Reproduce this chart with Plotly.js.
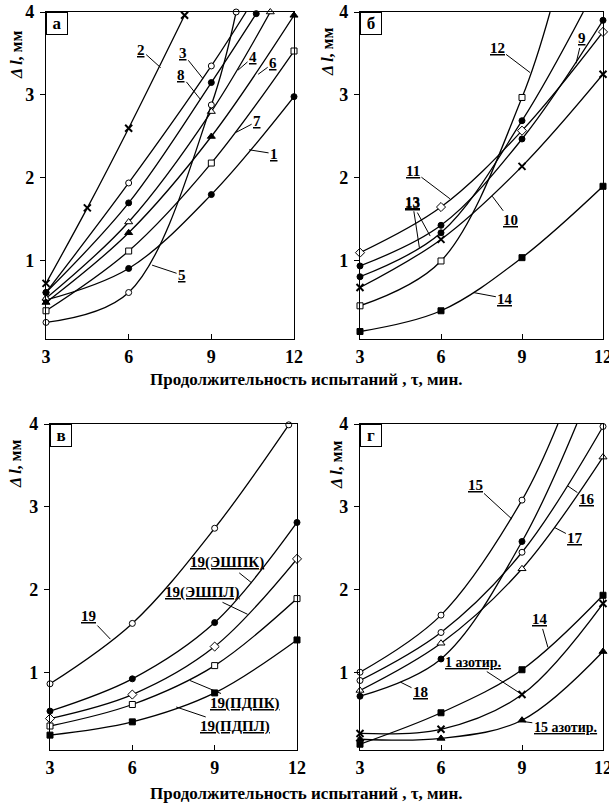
<!DOCTYPE html>
<html><head><meta charset="utf-8">
<script src="https://cdn.plot.ly/plotly-3.0.1.min.js"></script>
<style>body{margin:0;background:#fff}#chart{width:609px;height:804px}</style>
</head><body><div id="chart"></div>
<script>
// ---------- tick labels ----------
const xTicks = [3, 6, 9, 12];
const yTicks = [1, 2, 3, 4];
const yTop = 4;

// ---------- panel а ----------
const a1_x = [3, 6, 9, 12],        a1_y = [0.53, 0.91, 1.80, 2.98];
const a2_x = [3, 4.5, 6, 8.03],    a2_y = [0.73, 1.64, 2.60, 3.96];
const a3_x = [3, 6, 9],            a3_y = [0.62, 1.94, 3.35],  a3_exit = 10.26;
const a4_x = [3, 6, 9, 11.14],     a4_y = [0.55, 1.47, 2.80, 4.0];
const a5_x = [3, 6, 9, 9.9],       a5_y = [0.26, 0.62, 2.88, 4.0];
const a6_x = [3, 6, 9, 12],        a6_y = [0.50, 1.34, 2.50, 3.96];
const a7_x = [3, 6, 9, 12],        a7_y = [0.40, 1.12, 2.18, 3.53];
const a8_x = [3, 6, 9, 10.63],     a8_y = [0.62, 1.70, 3.15, 3.98];

// ---------- panel б ----------
const b9_x  = [3, 6, 9, 12],       b9_y  = [0.94, 1.43, 2.47, 3.90];
const b13_x = [3, 6, 9],           b13_y = [0.81, 1.34, 2.69],  b13_exit = 11.27;
const b10_x = [3, 6, 9, 12],       b10_y = [0.68, 1.26, 2.14, 3.25];
const b11_x = [3, 6, 9, 12],       b11_y = [1.10, 1.65, 2.57, 3.76];
const b12_x = [3, 6, 9],           b12_y = [0.46, 1.00, 2.97],  b12_exit = 10.04;
const b14_x = [3, 6, 9, 12],       b14_y = [0.15, 0.40, 1.04, 1.90];

// ---------- panel в ----------
const c19_x   = [3, 6, 9, 11.7],   c19_y   = [0.86, 1.59, 2.74, 3.99];
const cESHPK_x = [3, 6, 9, 12],    cESHPK_y = [0.53, 0.92, 1.60, 2.81];
const cESHPL_x = [3, 6, 9, 12],    cESHPL_y = [0.44, 0.73, 1.31, 2.37];
const cPDPK_x  = [3, 6, 9, 12],    cPDPK_y  = [0.35, 0.61, 1.08, 1.89];
const cPDPL_x  = [3, 6, 9, 12],    cPDPL_y  = [0.24, 0.40, 0.75, 1.39];

// ---------- panel г ----------
const d15_x = [3, 6, 9],           d15_y = [1.00, 1.69, 3.08],  d15_exit = 10.33;
const d16_x = [3, 6, 9, 12],       d16_y = [0.90, 1.48, 2.45, 3.97];
const d17_x = [3, 6, 9, 12],       d17_y = [0.78, 1.35, 2.25, 3.60];
const d18_x = [3, 6, 9],           d18_y = [0.71, 1.16, 2.58],  d18_exit = 11.03;
const d14_x = [3, 6, 9, 12],       d14_y = [0.13, 0.51, 1.03, 1.93];
const d1N_x = [3, 6, 9, 12],       d1N_y = [0.26, 0.31, 0.73, 1.83];
const d15N_x = [3, 6, 9, 12],      d15N_y = [0.19, 0.20, 0.42, 1.25];

// ---------- build ----------
const OPEN = 'open', FILL = 'fill';
const curves = [
  ['1', a1_x, a1_y, null, 'circle', FILL],
  ['1', a2_x, a2_y, null, 'x', FILL],
  ['1', a3_x, a3_y, a3_exit, 'circle', OPEN],
  ['1', a4_x, a4_y, null, 'triangle-up', OPEN],
  ['1', a5_x, a5_y, null, 'circle', OPEN],
  ['1', a6_x, a6_y, null, 'triangle-up', FILL],
  ['1', a7_x, a7_y, null, 'square', OPEN],
  ['1', a8_x, a8_y, null, 'circle', FILL],
  ['2', b9_x, b9_y, null, 'circle', FILL],
  ['2', b13_x, b13_y, b13_exit, 'circle', FILL],
  ['2', b10_x, b10_y, null, 'x', FILL],
  ['2', b11_x, b11_y, null, 'diamond', OPEN],
  ['2', b12_x, b12_y, b12_exit, 'square', OPEN],
  ['2', b14_x, b14_y, null, 'square', FILL],
  ['3', c19_x, c19_y, null, 'circle', OPEN],
  ['3', cESHPK_x, cESHPK_y, null, 'circle', FILL],
  ['3', cESHPL_x, cESHPL_y, null, 'diamond', OPEN],
  ['3', cPDPK_x, cPDPK_y, null, 'square', OPEN],
  ['3', cPDPL_x, cPDPL_y, null, 'square', FILL],
  ['4', d15_x, d15_y, d15_exit, 'circle', OPEN],
  ['4', d16_x, d16_y, null, 'circle', OPEN],
  ['4', d17_x, d17_y, null, 'triangle-up', OPEN],
  ['4', d18_x, d18_y, d18_exit, 'circle', FILL],
  ['4', d14_x, d14_y, null, 'square', FILL],
  ['4', d1N_x, d1N_y, null, 'x', FILL],
  ['4', d15N_x, d15N_y, null, 'triangle-up', FILL]
];

const traces = [];
curves.forEach(([p, xs, ys, exit, sym, fill]) => {
  const xa = p === '1' ? 'x' : 'x' + p, ya = p === '1' ? 'y' : 'y' + p;
  const lx = exit ? xs.concat([exit]) : xs;
  const ly = exit ? ys.concat([yTop]) : ys;
  traces.push({x: lx, y: ly, xaxis: xa, yaxis: ya, mode: 'lines', type: 'scatter',
    line: {color: '#000', width: 1.3, shape: 'spline', smoothing: 1}, hoverinfo: 'skip', showlegend: false});
  let marker;
  if (sym === 'x') {
    marker = {symbol: 'x-thin', size: 7, line: {color: '#000', width: 2}, color: '#000'};
  } else {
    const sz = sym === 'triangle-up' ? 7 : (sym === 'diamond' ? 7 : 6);
    marker = {symbol: sym, size: sz, color: fill === OPEN ? '#fff' : '#000', line: {color: '#000', width: 1}};
  }
  traces.push({x: xs, y: ys, xaxis: xa, yaxis: ya, mode: 'markers', type: 'scatter', cliponaxis: false,
    marker: marker, hoverinfo: 'skip', showlegend: false});
});

const W = 609, H = 804;
const fontTick = {family: 'Liberation Serif', size: 18, color: '#000', weight: 'bold'};
function xax(l, r, anchor) {
  return {domain: [l / W, r / W], anchor: anchor, range: [3, 12], tickvals: xTicks, ticks: 'inside', ticklen: 5,
    tickwidth: 1, tickcolor: '#000', showline: true, mirror: true, linecolor: '#000', linewidth: 1.2,
    showgrid: false, zeroline: false, tickfont: fontTick, fixedrange: true, ticklabelstandoff: 1,
    ticklabeloverflow: 'allow'};
}
function yax(t, b, anchor) {
  return {domain: [1 - b / H, 1 - t / H], anchor: anchor, range: [0.06, 4], tickvals: yTicks, ticks: 'outside',
    ticklen: 5, tickwidth: 1, tickcolor: '#000', showline: true, mirror: true, linecolor: '#000', linewidth: 1.2,
    showgrid: false, zeroline: false, tickfont: fontTick, fixedrange: true, ticklabelstandoff: 2,
    ticklabeloverflow: 'allow'};
}

const lblFont = {family: 'Liberation Serif', size: 15, color: '#000', weight: 'bold'};
function lab(p, text, x, y, ax, ay, size) {
  const xr = p === '1' ? 'x' : 'x' + p, yr = p === '1' ? 'y' : 'y' + p;
  return {xref: xr, yref: yr, x: x, y: y, ax: ax, ay: ay, text: '<u>' + text + '</u>', showarrow: true,
    arrowhead: 0, arrowwidth: 1, arrowcolor: '#000', standoff: 0,
    font: Object.assign({}, lblFont, size ? {size: size} : {})};
}
const annotations = [
  lab('1', '2', 7.16, 3.33, -20, -18),
  lab('1', '3', 8.69, 3.2, -20, -25),
  lab('1', '8', 8.62, 2.94, -20, -25),
  lab('1', '4', 9.97, 3.3, 15, -13),
  lab('1', '6', 10.7, 3.25, 15, -11),
  lab('1', '7', 9.9, 2.55, 21, -11),
  lab('1', '1', 10.37, 2.34, 25, 4),
  lab('1', '5', 6.85, 0.95, 30, 10),
  lab('2', '12', 9.3, 3.27, -33, -25),
  lab('2', '9', 11.0, 3.38, 6, -25),
  lab('2', '11', 6.33, 1.75, -37, -28),
  lab('2', '13', 5.6, 1.30, -18, -33),
  lab('2', '13', 5.2, 1.16, -7, -46),
  lab('2', '10', 7.9, 1.78, 18, 24),
  lab('2', '14', 7.2, 0.62, 32, 6),
  lab('3', '19', 5.2, 1.40, -22, -23),
  lab('3', '19(ЭШПК)', 10.35, 2.08, -25, -20),
  lab('3', '19(ЭШПЛ)', 10.2, 1.70, -46, -22),
  lab('3', '19(ПДПК)', 8.1, 0.90, 55, 23),
  lab('3', '19(ПДПЛ)', 7.6, 0.58, 59, 20),
  lab('4', '15', 8.63, 2.85, -37, -34),
  lab('4', '16', 10.7, 3.25, 19, 13),
  lab('4', '17', 10.2, 2.75, 21, 11),
  lab('4', '18', 4.5, 0.88, 20, 10),
  lab('4', '14', 9.96, 1.30, -8, -28),
  lab('4', '1 азотир.', 9.0, 0.73, -49, -32, 14),
  lab('4', '15 азотир.', 8.9, 0.41, 46, 6, 14)
];

// panel letters
[['а', 'x', 'y'], ['б', 'x2', 'y2'], ['в', 'x3', 'y3'], ['г', 'x4', 'y4']].forEach(([t, xr, yr]) => {
  annotations.push({xref: xr + ' domain', yref: yr + ' domain', x: 0, y: 1, xanchor: 'left', yanchor: 'top',
    text: t, showarrow: false, width: 16, height: 17, borderpad: 2, bordercolor: '#000', borderwidth: 1,
    bgcolor: '#fff', font: {family: 'Liberation Serif', size: 17, color: '#000', weight: 'bold'}});
});

// axis titles
const ytitle = '<i>Δ l</i>, мм';
[[17, 55], [327, 52], [15, 464], [337, 465]].forEach(([px, py]) => {
  annotations.push({xref: 'paper', yref: 'paper', x: px / W, y: 1 - py / H, xanchor: 'center', yanchor: 'middle',
    text: ytitle, textangle: -90, showarrow: false,
    font: {family: 'Liberation Serif', size: 16, color: '#000', weight: 'bold'}});
});
const xtitle = 'Продолжительность испытаний , τ, мин.';
[380, 793].forEach(py => {
  annotations.push({xref: 'paper', yref: 'paper', x: 306 / W, y: 1 - py / H, xanchor: 'center', yanchor: 'middle',
    text: xtitle, showarrow: false,
    font: {family: 'Liberation Serif', size: 17, color: '#000', weight: 'bold'}});
});

const layout = {
  width: W, height: H, margin: {l: 0, r: 0, t: 0, b: 0}, paper_bgcolor: '#fff', plot_bgcolor: '#fff',
  showlegend: false,
  xaxis: xax(46, 294, 'y'), yaxis: yax(12, 339, 'x'),
  xaxis2: xax(360, 603, 'y2'), yaxis2: yax(12, 339, 'x2'),
  xaxis3: xax(50, 297, 'y3'), yaxis3: yax(424, 750, 'x3'),
  xaxis4: xax(360, 603, 'y4'), yaxis4: yax(424, 750, 'x4'),
  annotations: annotations
};
Plotly.newPlot('chart', traces, layout, {staticPlot: true, displayModeBar: false});
</script>
</body></html>
